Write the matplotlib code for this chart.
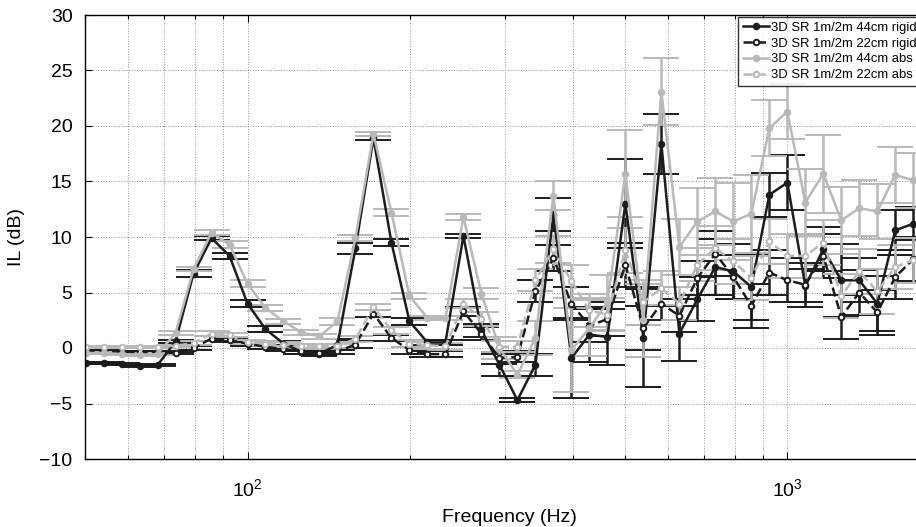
import numpy as np
import matplotlib
matplotlib.use("Agg")
import matplotlib.pyplot as plt
from matplotlib.lines import Line2D

plt.rcParams['font.family'] = ['Liberation Sans', 'DejaVu Sans']

# band index k -> frequency 100*10^(k/30) Hz, k = -9 .. 37
band_idx = list(range(-9, 38))
freq = [100 * 10 ** (k / 30) for k in band_idx]

# 3D SR 1m/2m 44cm rigid
il_44_rigid = [-1.35, -1.35, -1.45, -1.65, -1.55, 0.6, 6.7, 9.9, 8.3, 4.0,
               1.7, 0.4, -0.35, -0.55, 0.3, 9.0, 18.9, 9.5, 2.4, 0.5,
               0.5, 10.1, 1.6, -1.5, -4.7, -1.5, 12.0, -0.9, 1.2, 1.0,
               13.0, 0.9, 18.4, 1.3, 4.4, 7.3, 6.9, 5.5, 13.8, 14.9,
               5.6, 8.9, 6.1, 6.1, 4.0, 10.6, 11.2]
err_44_rigid = [0.1, 0.1, 0.1, 0.1, 0.1, 0.15, 0.3, 0.2, 0.3, 0.3,
                0.3, 0.2, 0.2, 0.2, 0.5, 0.5, 0.2, 0.3, 0.3, 0.2,
                0.2, 0.2, 0.6, 1.0, 0.2, 1.0, 1.5, 3.6, 2.5, 2.5,
                4.0, 4.4, 2.7, 2.5, 2.0, 2.5, 2.5, 3.0, 2.0, 2.5,
                1.5, 2.0, 3.3, 2.0, 2.5, 1.8, 1.5]

# 3D SR 1m/2m 22cm rigid
il_22_rigid = [-0.3, -0.3, -0.35, -0.4, -0.4, -0.45, 0.0, 0.85, 0.7, 0.4,
               0.1, -0.1, -0.3, -0.45, -0.3, 0.3, 3.1, 0.9, -0.2, -0.55,
               -0.55, 3.3, 1.3, -0.9, -0.8, 5.1, 8.1, 4.0, 2.0, 2.6,
               7.5, 1.8, 4.0, 2.9, 6.3, 8.5, 6.4, 3.8, 6.8, 6.1,
               5.7, 8.3, 2.8, 5.0, 3.2, 6.4, 8.0]
err_22_rigid = [0.1, 0.1, 0.1, 0.1, 0.1, 0.1, 0.2, 0.2, 0.2, 0.2,
                0.2, 0.2, 0.2, 0.2, 0.2, 0.3, 0.3, 0.3, 0.3, 0.3,
                0.3, 0.4, 0.6, 0.5, 0.5, 1.0, 1.2, 1.5, 1.5, 1.5,
                2.0, 2.0, 1.5, 1.5, 1.5, 2.0, 2.0, 2.0, 2.0, 2.0,
                2.0, 2.0, 2.0, 2.0, 2.0, 2.0, 2.0]

# 3D SR 1m/2m 44cm abs
il_44_abs = [-0.45, -0.45, -0.55, -0.6, -0.55, 1.35, 7.1, 10.4, 9.3, 5.8,
             3.6, 2.4, 1.4, 1.05, 2.4, 9.9, 19.3, 12.2, 4.7, 2.7,
             2.7, 11.8, 4.9, 0.0, -2.4, 0.9, 13.7, -0.2, 1.8, 4.1,
             15.7, 2.5, 23.1, 9.1, 11.4, 12.3, 11.4, 12.1, 19.8, 21.3,
             13.1, 15.7, 11.5, 12.6, 12.3, 15.6, 15.1]
err_44_abs = [0.1, 0.1, 0.1, 0.1, 0.1, 0.2, 0.2, 0.2, 0.3, 0.3,
              0.3, 0.2, 0.2, 0.2, 0.3, 0.3, 0.2, 0.3, 0.3, 0.2,
              0.2, 0.3, 0.5, 1.0, 0.3, 1.5, 1.3, 3.8, 2.5, 2.5,
              3.9, 3.3, 3.0, 2.5, 3.0, 3.0, 3.5, 3.5, 2.5, 2.5,
              3.0, 3.5, 3.0, 2.5, 2.5, 2.5, 2.5]

# 3D SR 1m/2m 22cm abs
il_22_abs = [0.1, 0.12, 0.12, 0.1, 0.12, 0.2, 0.45, 1.3, 1.15, 0.55,
             0.4, 0.3, 0.2, 0.15, 0.2, 0.8, 3.7, 1.6, 0.4, 0.25,
             0.15, 4.0, 2.6, 0.1, 0.1, 6.1, 8.9, 6.0, 3.4, 3.0,
             8.8, 4.1, 5.4, 4.0, 7.5, 9.0, 7.8, 6.3, 9.6, 8.3,
             8.3, 9.5, 4.7, 6.9, 5.1, 7.3, 7.9]
err_22_abs = [0.1, 0.1, 0.1, 0.1, 0.1, 0.1, 0.2, 0.2, 0.2, 0.2,
              0.2, 0.2, 0.2, 0.2, 0.2, 0.3, 0.3, 0.3, 0.3, 0.3,
              0.3, 0.4, 0.6, 0.5, 0.5, 1.0, 1.2, 1.5, 1.5, 1.5,
              2.0, 2.0, 1.5, 1.5, 1.5, 2.0, 2.0, 2.0, 2.0, 2.0,
              2.0, 2.0, 2.0, 2.0, 2.0, 2.0, 2.0]

labels = ["3D SR 1m/2m 44cm rigid", "3D SR 1m/2m 22cm rigid",
          "3D SR 1m/2m 44cm abs", "3D SR 1m/2m 22cm abs"]

black = '#1c1c1c'
gray = '#b9b9b9'

fig = plt.figure(figsize=(9.16, 5.27), dpi=100)
# axes run a little past the right edge, as in the original crop
ax = fig.add_axes([85 / 916, 1 - 459 / 527, 1.02 - 85 / 916, (459 - 15) / 527])

series = [
    (il_44_rigid, err_44_rigid, black, '-', black),
    (il_22_rigid, err_22_rigid, black, '--', 'white'),
    (il_44_abs, err_44_abs, gray, '-', gray),
    (il_22_abs, err_22_abs, gray, '--', 'white'),
]
for vals, err, col, ls, mfc in series:
    ax.errorbar(freq, vals, yerr=err, color=col, ls=ls, lw=1.8,
                marker='o', ms=4, mfc=mfc, mec=col, mew=1.4,
                ecolor=col, elinewidth=1.8, capsize=13, capthick=1.8)

ax.set_xscale('log')
ax.set_xlim(50, 1872)
ax.set_ylim(-10, 30)
ax.set_yticks(np.arange(-10, 31, 5))

ax.grid(True, which='major', axis='both', ls=':', color='#959595', lw=0.7)
ax.grid(True, which='minor', axis='x', ls=':', color='#959595', lw=0.7)
ax.tick_params(which='both', direction='in', top=True, right=True,
               labelsize=14, width=0.8)
ax.tick_params(which='major', length=5)
ax.tick_params(which='minor', length=3)
ax.tick_params(axis='x', pad=14)
ax.tick_params(axis='y', pad=9)
for sp in ax.spines.values():
    sp.set_linewidth(1.0)

ax.set_xlabel("Frequency (Hz)", fontsize=14, labelpad=6)
ax.set_ylabel("IL (dB)", fontsize=14, labelpad=10)

handles = []
for vals, err, col, ls, mfc in series:
    handles.append(Line2D([], [], color=col, ls=ls, lw=1.8, marker='o',
                          ms=4, mfc=mfc, mec=col, mew=1.4))
leg = fig.legend(handles, labels, loc='upper left',
                 bbox_to_anchor=(738 / 916, 1 - 17 / 527),
                 fontsize=9.4, frameon=True, fancybox=False,
                 handlelength=2.0, handletextpad=0.2, labelspacing=0.28,
                 borderpad=0.35, borderaxespad=0)
leg.get_frame().set_edgecolor('black')
leg.get_frame().set_linewidth(1.0)

fig.savefig("out.png", dpi=100)
